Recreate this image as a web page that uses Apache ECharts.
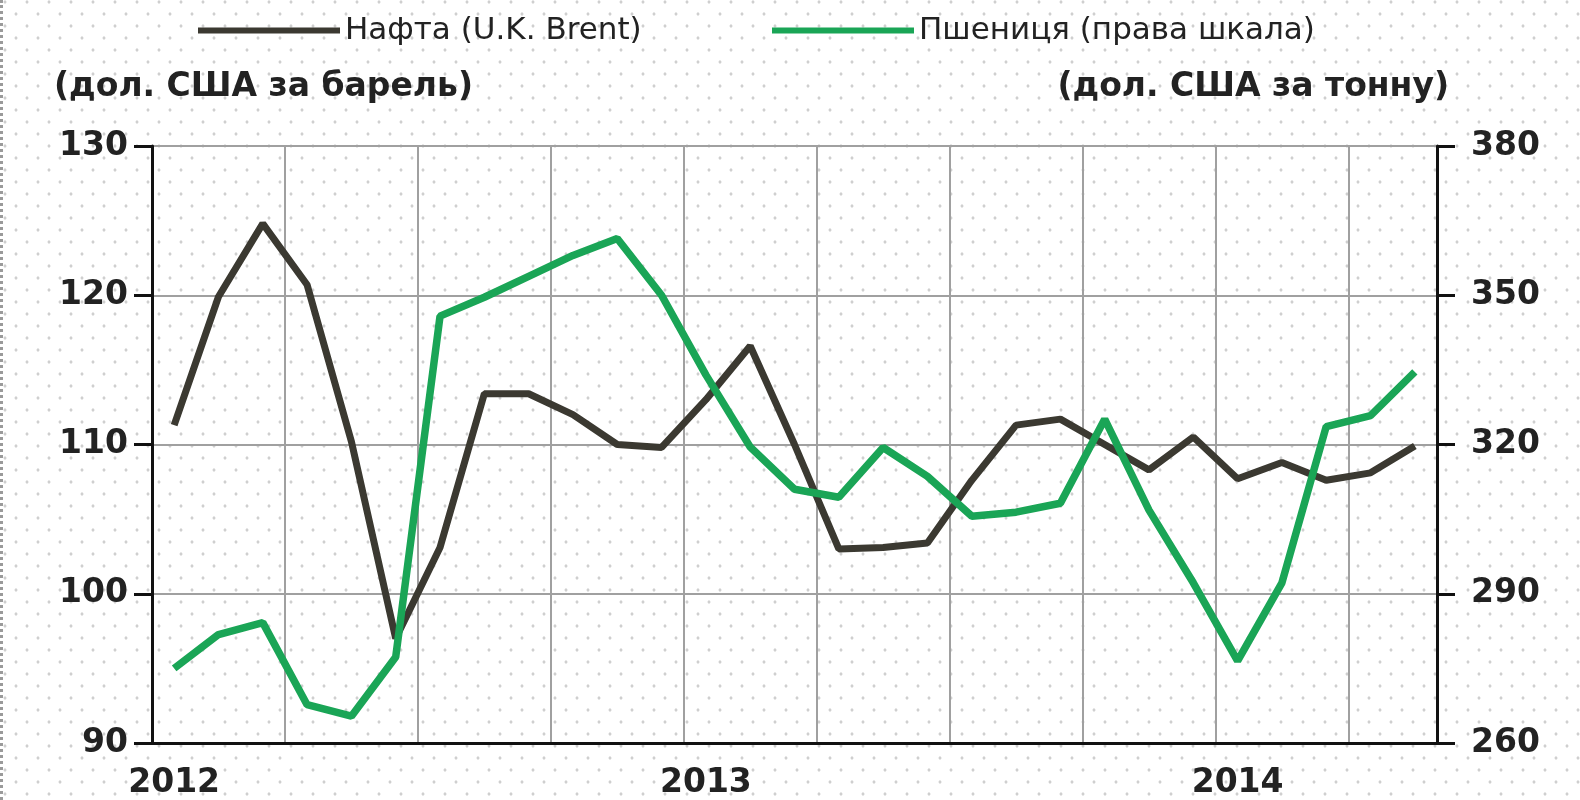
<!DOCTYPE html>
<html>
<head>
<meta charset="utf-8">
<script src="https://cdn.jsdelivr.net/npm/echarts@6/dist/echarts.min.js"></script>
<style>
  html, body { margin: 0; padding: 0; }
  #chart {
    width: 1580px;
    height: 800px;
    background-color: #fff;
    background-image:
      radial-gradient(#cfcfcf 1.1px, transparent 1.8px),
      radial-gradient(#cfcfcf 1.1px, transparent 1.8px);
    background-size: 22px 24px;
    background-position: 2px 2px, 13px 14px;
    border-left: 3px dotted #9a9a9a;
    box-sizing: border-box;
  }
</style>
</head>
<body>
<div id="chart"></div>
<script>
// місяці: січ 2012 – трав 2014
const months = [
  '2012-01', '2012-02', '2012-03', '2012-04', '2012-05', '2012-06',
  '2012-07', '2012-08', '2012-09', '2012-10', '2012-11', '2012-12',
  '2013-01', '2013-02', '2013-03', '2013-04', '2013-05', '2013-06',
  '2013-07', '2013-08', '2013-09', '2013-10', '2013-11', '2013-12',
  '2014-01', '2014-02', '2014-03', '2014-04', '2014-05'
]

// Нафта U.K. Brent, дол. США за барель
const brent = [
  111.3, 119.9, 124.8, 120.7, 110.2, 97.0,
  103.1, 113.4, 113.4, 112.0, 110.0, 109.8,
  113.0, 116.6, 110.0, 103.0, 103.1, 103.4,
  107.6, 111.3, 111.7, 110.0, 108.3, 110.5,
  107.7, 108.8, 107.6, 108.1, 109.9
]

// Пшениця, дол. США за тонну (права шкала)
const wheat = [
  275.0, 281.8, 284.2, 267.7, 265.4, 277.3,
  345.8, 349.6, 353.8, 358.0, 361.4, 350.0,
  334.0, 319.5, 311.0, 309.4, 319.4, 313.6,
  305.6, 306.4, 308.2, 325.1, 306.8, 292.2,
  276.5, 292.2, 323.6, 325.8, 334.6
]

const leftTicks = { min: 90, max: 130, interval: 10 }
const rightTicks = { min: 260, max: 380, interval: 30 }

const brentName = 'Нафта (U.K. Brent)'
const wheatName = 'Пшениця (права шкала)'

const brentColor = '#3b3931'
const wheatColor = '#1aa556'
const gridColor = '#a0a0a0'
const font = 'DejaVu Sans'

// поділки осі X — кожен квартал
const quarterStart = (idx) => idx % 3 === 0
// підписи років — лише січень
const isJanuary = (idx, val) => val.endsWith('-01')

const chart = echarts.init(document.getElementById('chart'))

const legendText = { fontSize: 31, color: '#222', fontFamily: font }

const option = {
  animation: false,
  backgroundColor: 'transparent',
  textStyle: { fontFamily: font },
  title: [
    {
      text: '(дол. США за барель)',
      left: 46,
      top: 66,
      textStyle: { fontSize: 33, fontWeight: 'bold', color: '#222', fontFamily: font }
    },
    {
      text: '(дол. США за тонну)',
      right: 126,
      top: 66,
      textStyle: { fontSize: 33, fontWeight: 'bold', color: '#222', fontFamily: font }
    }
  ],
  legend: [
    {
      data: [{ name: brentName, icon: 'rect' }],
      left: 190,
      top: 10,
      itemWidth: 142,
      itemHeight: 6,
      itemGap: 8,
      textStyle: legendText
    },
    {
      data: [{ name: wheatName, icon: 'rect' }],
      left: 764,
      top: 10,
      itemWidth: 142,
      itemHeight: 6,
      itemGap: 8,
      textStyle: legendText
    }
  ],
  grid: {
    left: 149,
    right: 143,
    top: 146,
    bottom: 57,
    containLabel: false
  },
  xAxis: {
    type: 'category',
    data: months,
    boundaryGap: true,
    axisLine: { lineStyle: { color: '#111', width: 3 } },
    axisTick: { interval: quarterStart, length: 14, lineStyle: { color: '#111', width: 3 } },
    splitLine: { show: true, interval: quarterStart, lineStyle: { color: gridColor, width: 2 } },
    axisLabel: {
      interval: isJanuary,
      margin: 24,
      fontSize: 33,
      fontWeight: 'bold',
      color: '#222',
      formatter: (v) => v.slice(0, 4)
    }
  },
  yAxis: [
    {
      type: 'value',
      position: 'left',
      min: leftTicks.min,
      max: leftTicks.max,
      interval: leftTicks.interval,
      axisLine: { show: true, lineStyle: { color: '#111', width: 3 } },
      axisTick: { show: true, length: 18, lineStyle: { color: '#111', width: 3 } },
      splitLine: { show: true, lineStyle: { color: gridColor, width: 2 } },
      axisLabel: { margin: 24, fontSize: 33, fontWeight: 'bold', color: '#222' }
    },
    {
      type: 'value',
      position: 'right',
      min: rightTicks.min,
      max: rightTicks.max,
      interval: rightTicks.interval,
      axisLine: { show: true, lineStyle: { color: '#111', width: 3 } },
      axisTick: { show: true, length: 18, lineStyle: { color: '#111', width: 3 } },
      splitLine: { show: false },
      axisLabel: { margin: 34, fontSize: 33, fontWeight: 'bold', color: '#222' }
    }
  ],
  series: [
    {
      name: brentName,
      type: 'line',
      yAxisIndex: 0,
      data: brent,
      symbol: 'none',
      z: 3,
      itemStyle: { color: brentColor },
      lineStyle: { color: brentColor, width: 7 }
    },
    {
      name: wheatName,
      type: 'line',
      yAxisIndex: 1,
      data: wheat,
      symbol: 'none',
      z: 4,
      itemStyle: { color: wheatColor },
      lineStyle: { color: wheatColor, width: 7.5 }
    }
  ]
}

chart.setOption(option)
</script>
</body>
</html>
